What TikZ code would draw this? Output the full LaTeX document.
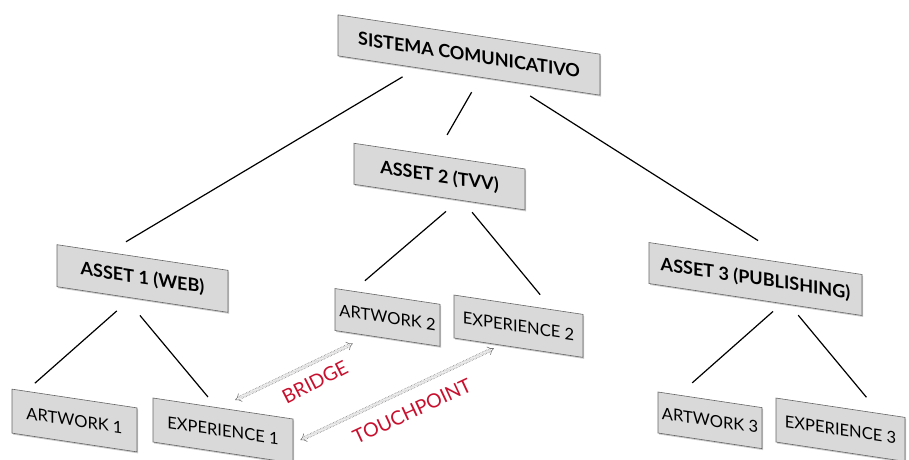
\documentclass[tikz,border=0pt]{standalone}
\usepackage{fontspec}
\setmainfont{Lato}
\usetikzlibrary{calc,shadows,arrows.meta}

\definecolor{boxgray}{HTML}{D9D9D9}
\definecolor{tagred}{HTML}{C8102E}

\begin{document}
\begin{tikzpicture}[x=1pt, y=-1pt,
  box/.style={draw=black!60, line width=0.6pt, fill=boxgray, yslant=-0.15, inner sep=0pt,
    font=\fontsize{16.5}{16.5}\selectfont,
    drop shadow={shadow xshift=1.2pt, shadow yshift=-1.5pt, opacity=0.4}},
  head/.style={box, font=\fontsize{18}{18}\selectfont\bfseries},
  branch/.style={line width=1.2pt},
  bridge/.style={draw=black!55, densely dotted, double=white, double distance=2.6pt,
    line width=0.6pt, {Implies[length=5pt,width=9pt]}-{Implies[length=5pt,width=9pt]}},
  tag/.style={text=tagred, font=\fontsize{19.5}{19.5}\selectfont}]
\newcommand{\branch}[6]{\draw[branch] ($(#1.south west)!#2!(#1.south east)+(0,#3)$) -- ($(#4.north west)!#5!(#4.north east)-(0,#6)$);} % parent, where, gap, child, where, gap

\useasboundingbox (0,0) rectangle (909,459);

% top
\node[head, minimum width=262, minimum height=41] (sis) at (469,55) {SISTEMA COMUNICATIVO};

% assets
\node[head, minimum width=171, minimum height=42] (asset1) at (142.5,278.5) {ASSET 1 (WEB)};
\node[head, minimum width=171, minimum height=41] (asset2) at (439.5,176.6) {ASSET 2 (TVV)};
\node[head, minimum width=213, minimum height=41] (asset3) at (755.5,279) {ASSET 3 (PUBLISHING)};

% artworks and experiences
\node[box, minimum width=125, minimum height=44] (art1) at (74.5,420.5) {ARTWORK 1};
\node[box, minimum width=140, minimum height=44] (exp1) at (223,430.5) {EXPERIENCE 1};
\node[box, minimum width=105, minimum height=42] (art2) at (387.5,317.4) {ARTWORK 2};
\node[box, minimum width=129, minimum height=43] (exp2) at (518.5,326.2) {EXPERIENCE 2};
\node[box, minimum width=104, minimum height=41] (art3) at (710,420.3) {ARTWORK 3};
\node[box, minimum width=129, minimum height=44] (exp3) at (840.5,429.7) {EXPERIENCE 3};

% tree
\branch{sis}{0.247}{11}{asset1}{0.404}{13}
\branch{sis}{0.51}{16}{asset2}{0.544}{22}
\branch{sis}{0.733}{11}{asset3}{0.512}{18}
\branch{asset1}{0.35}{15}{art1}{0.184}{9}
\branch{asset1}{0.485}{16}{exp1}{0.393}{9}
\branch{asset2}{0.538}{13}{art2}{0.286}{12}
\branch{asset2}{0.69}{10}{exp2}{0.667}{13}
\branch{asset3}{0.582}{9}{art3}{0.33}{14}
\branch{asset3}{0.70}{9}{exp3}{0.70}{14}

% cross links
\draw[bridge] ($(exp1.north west)!0.586!(exp1.north east)-(0,10)$) -- ($(art2.south west)!0.171!(art2.south east)+(0,10)$);
\draw[bridge] ($(exp1.east)+(7,-1)$) -- ($(exp2.south west)!0.31!(exp2.south east)+(0,4)$);

\node[tag, rotate=27] (bridgetag) at (315,382) {BRIDGE};
\node[tag, rotate=25] (touchtag) at (412,411) {TOUCHPOINT};
\end{tikzpicture}
\end{document}
